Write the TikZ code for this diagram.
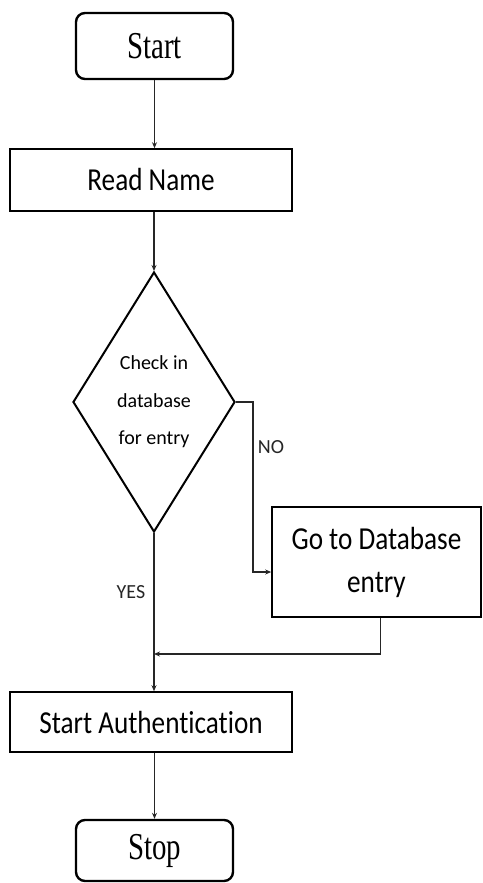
\documentclass[tikz,border=0pt]{standalone}
\usepackage{fontspec}
\usetikzlibrary{shapes.geometric}
\usetikzlibrary{arrows.meta}
\newfontfamily\boxfont[FakeStretch=0.85,Ligatures=NoCommon]{Carlito}
\newfontfamily\smallfont{Carlito}
\newfontfamily\termfont[FakeStretch=0.76]{Liberation Serif}

\begin{document}
\begin{tikzpicture}[x=1pt,y=-1pt,
  terminal/.style={rectangle,rounded corners=9pt,draw=black,line width=2.4pt,inner sep=0pt,font=\termfont\fontsize{38}{40}\selectfont},
  process/.style={rectangle,draw=black,line width=1.6pt,inner sep=0pt,align=center,font=\boxfont\fontsize{32}{43}\selectfont},
  decision/.style={diamond,draw=black,line width=2pt,inner sep=0pt,aspect=0.62,align=center,font=\smallfont\fontsize{20}{37.5}\selectfont},
  flowline/.style={draw=black!85,line width=1.2pt},
  flowarrow/.style={flowline,-{Stealth[length=6pt,width=5pt]}},
  tag/.style={font=\smallfont\fontsize{20}{24}\selectfont,text=black!85}]
\useasboundingbox (0,0) rectangle (482,883);

\node[terminal,minimum width=157pt,minimum height=66pt] (start) at (154.5,46) {Start};
\node[process,minimum width=282pt,minimum height=62pt] (readname) at (151,180) {Read Name};
\node[decision,minimum width=162pt,minimum height=260pt] (check) at (154,402) {Check in\\database\\for entry};
\node[process,minimum width=209pt,minimum height=110pt] (dbentry) at (376.5,562) {Go to Database\\entry};
\node[process,minimum width=282pt,minimum height=60pt] (auth) at (151,722) {Start Authentication};
\node[terminal,minimum width=157pt,minimum height=61pt] (stop) at (154.5,850.5) {Stop};

% turning points of the side branch
\coordinate (noturn) at (253,572);
\coordinate (merge) at (154,654);

\draw[flowarrow] (start.south) -- (start.south |- readname.north);
\draw[flowarrow] (readname.south -| check.north) -- (check.north);
\draw[flowarrow] (check.east) -| (noturn) -- (noturn -| dbentry.west);
\draw[flowarrow] (check.south) -- (check.south |- auth.north);
\draw[flowarrow] ([xshift=4pt]dbentry.south) |- (merge);
\draw[flowarrow] (auth.south -| stop.north) -- (stop.north);

\node[tag] (nolabel) at (271,447) {NO};
\node[tag] (yeslabel) at (131,592) {YES};
\end{tikzpicture}
\end{document}
